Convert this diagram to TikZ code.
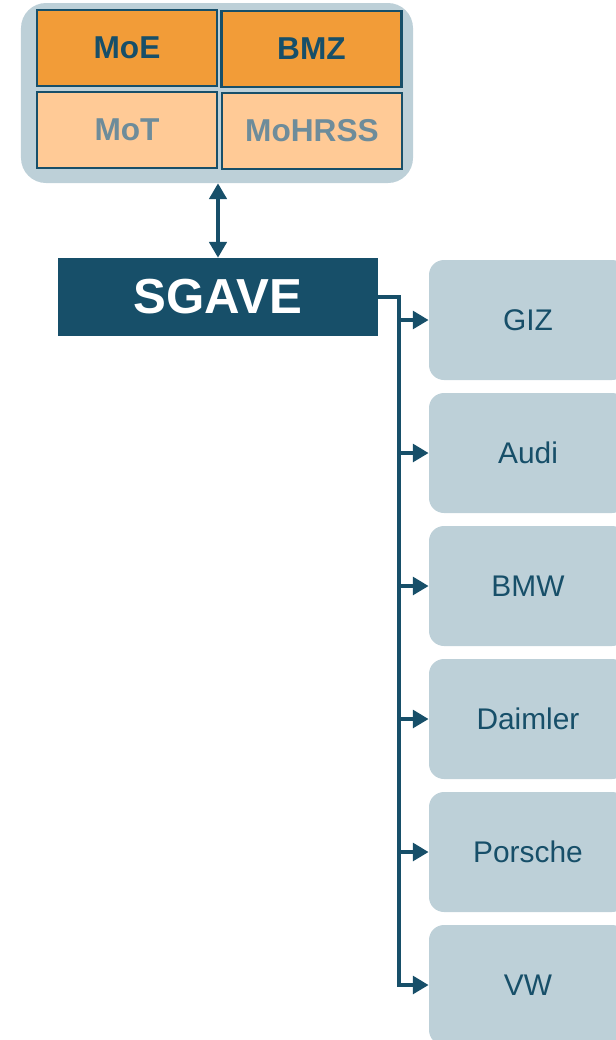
\documentclass[tikz,border=0pt]{standalone}
\usepackage{fontspec}
\setmainfont{Liberation Sans}
\usetikzlibrary{arrows.meta, positioning}
\definecolor{navy}{HTML}{174F69}
\definecolor{paleblue}{HTML}{BDD0D8}
\definecolor{darkorange}{HTML}{F29C38}
\definecolor{lightorange}{HTML}{FFCA96}
\definecolor{greytext}{HTML}{6E8C9A}
\begin{document}
\begin{tikzpicture}[
    ministry/.style={draw=navy, line width=1.2pt, minimum width=3.6cm, minimum height=1.52cm, font=\fontsize{18}{20}\selectfont\bfseries},
    partner/.style={fill=paleblue, rounded corners=0.3cm, minimum width=3.96cm, minimum height=2.4cm, text=navy, font=\fontsize{17}{19}\selectfont},
    link/.style={navy, line width=2.3pt, -{Triangle[length=9pt, width=10pt]}}
]
    \useasboundingbox (0,0) rectangle (12.32,-20.8);

    % Ministries
    \node[fill=paleblue, rounded corners=0.5cm, minimum width=7.84cm, minimum height=3.6cm] (ministries) at (4.34,-1.86) {};
    \node[ministry, fill=darkorange, text=navy] (moe) at (2.54,-0.96) {MoE};
    \node[ministry, fill=darkorange, text=navy] (bmz) at (6.23,-0.98) {BMZ};
    \node[ministry, fill=lightorange, text=greytext] (mot) at (2.54,-2.6) {MoT};
    \node[ministry, fill=lightorange, text=greytext] (mohrss) at (6.24,-2.62) {MoHRSS};

    % SGAVE
    \node[fill=navy, text=white, minimum width=6.4cm, minimum height=1.56cm, font=\fontsize{28}{30}\selectfont\bfseries] (sgave) at (4.36,-5.94) {SGAVE};
    \draw[navy, line width=1.8pt, {Triangle[length=9pt, width=10pt]}-{Triangle[length=9pt, width=10pt]}] (sgave.north |- ministries.south) -- (sgave.north);

    % Partners
    \node[partner] (giz) at (10.56,-6.4) {GIZ};
    \node[partner] (audi) at (10.56,-9.06) {Audi};
    \node[partner] (bmw) at (10.56,-11.72) {BMW};
    \node[partner] (daimler) at (10.56,-14.38) {Daimler};
    \node[partner] (porsche) at (10.56,-17.04) {Porsche};
    \node[partner] (vw) at (10.56,-19.7) {VW};

    % Connectors
    \draw[link] (sgave.east) -- ++(0.42,0) coordinate (bus) |- (vw.west);
    \foreach \p in {giz, audi, bmw, daimler, porsche}
        \draw[link] (bus |- \p.west) -- (\p.west);
\end{tikzpicture}
\end{document}
